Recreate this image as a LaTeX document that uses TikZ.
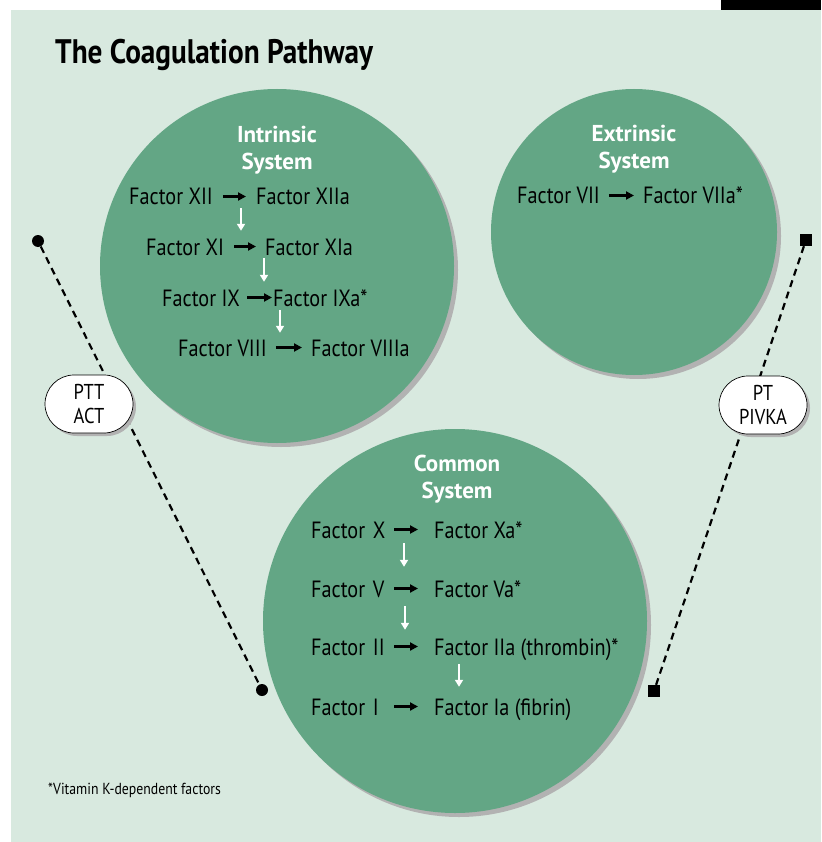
\documentclass[tikz,border=0pt]{standalone}
\usepackage{fontspec}
\setmainfont{PT Sans}[FakeStretch=0.86]
\newfontfamily\headfont{PT Sans}
\usetikzlibrary{positioning, arrows.meta, shapes.misc, shadows}
\definecolor{panelgreen}{RGB}{216,233,223}
\definecolor{circlegreen}{RGB}{99,166,133}
\definecolor{shadowgray}{RGB}{178,178,178}

\begin{document}
\begin{tikzpicture}[x=1pt, y=-1pt,
    system/.style={circle, fill=circlegreen, draw=none, inner sep=0pt,
        drop shadow={shadow xshift=4pt, shadow yshift=-4pt, opacity=1, fill=shadowgray}},
    heading/.style={align=center, text=white, inner sep=0pt, font=\headfont\fontsize{23}{27}\selectfont\bfseries},
    factor/.style={anchor=base west, inner sep=0pt, text height=17pt, text depth=0pt, font=\fontsize{23.5}{28}\selectfont},
    leftfactor/.style={factor, text width=76pt},
    arrow/.style={-{Triangle[length=8pt, width=8pt]}, line width=2.4pt, black},
    downarrow/.style={-{Triangle[length=7pt, width=8pt]}, line width=2pt, white},
    testdot/.style={circle, fill=black, inner sep=0pt, minimum size=12pt},
    testsquare/.style={rectangle, fill=black, inner sep=0pt, minimum size=12pt},
    testline/.style={dashed, dash pattern=on 7pt off 5pt, line width=2.2pt},
    testpill/.style={rounded rectangle, fill=white, draw=black, line width=0.7pt, align=center,
        minimum width=88pt, minimum height=58pt, inner sep=0pt, font=\fontsize{21.5}{24}\selectfont,
        drop shadow={shadow xshift=3pt, shadow yshift=-3pt, opacity=1, fill=shadowgray}}
]
\useasboundingbox (0,0) rectangle (821,842);

% Hintergrund
\fill[panelgreen] (11,10) rectangle (821,842);
\fill[black] (721,0) rectangle (821,10);

% Titel
\node[anchor=base west, inner sep=0pt, font=\fontsize{34}{38}\selectfont\bfseries] (title) at (55,64) {The Coagulation Pathway};

% Systeme
\node[system, minimum size=354pt] (intrinsic) at (277,266) {};
\node[system, minimum size=286pt] (extrinsic) at (634,232) {};
\node[system, minimum size=384pt] (common) at (455,621) {};

% Intrinsic System
\node[heading] (intrinsichead) at (277,150) {Intrinsic\\System};
\node[factor] (f12) at (129,205) {Factor XII};
\node[factor] (f12a) at (256,205) {Factor XIIa};
\node[factor] (f11) at (146,255) {Factor XI};
\node[factor] (f11a) at (265,255) {Factor XIa};
\node[factor] (f9) at (162,306) {Factor IX};
\node[factor] (f9a) at (273,306) {Factor IXa*};
\node[factor] (f8) at (178,356) {Factor VIII};
\node[factor] (f8a) at (311,356) {Factor VIIIa};

\draw[arrow, shorten <=10pt, shorten >=10pt] (f12.east) -- (f12a.west);
\draw[arrow, shorten <=10pt, shorten >=9pt] (f11.east) -- (f11a.west);
\draw[arrow, shorten <=7pt, shorten >=1pt] (f9.east) -- (f9a.west);
\draw[arrow, shorten <=9pt, shorten >=9pt] (f8.east) -- (f8a.west);

\draw[downarrow, shorten <=3pt, shorten >=7pt] (f12.south -| 241,0) -- (f11.north -| 241,0);
\draw[downarrow, shorten <=3pt, shorten >=7pt] (f11.south -| 264,0) -- (f9.north -| 264,0);
\draw[downarrow, shorten <=4pt, shorten >=6pt] (f9.south -| 280,0) -- (f8.north -| 280,0);

% Extrinsic System
\node[heading] (extrinsichead) at (634,149) {Extrinsic\\System};
\node[factor] (f7) at (517,204) {Factor VII};
\node[factor] (f7a) at (643,204) {Factor VIIa*};
\draw[arrow, shorten <=9pt, shorten >=9pt] (f7.east) -- (f7a.west);

% Common System
\node[heading] (commonhead) at (457,479) {Common\\System};
\node[leftfactor] (f10) at (311,538) {Factor X};
\node[factor] (f10a) at (434,538) {Factor Xa*};
\node[leftfactor] (f5) at (311,597) {Factor V};
\node[factor] (f5a) at (434,597) {Factor Va*};
\node[leftfactor] (f2) at (311,655) {Factor II};
\node[factor] (f2a) at (434,655) {Factor IIa (thrombin)*};
\node[leftfactor] (f1) at (311,715) {Factor I};
\node[factor] (f1a) at (434,715) {Factor Ia (fibrin)};

\draw[arrow, shorten <=7pt, shorten >=16pt] (f10.east) -- (f10a.west);
\draw[arrow, shorten <=7pt, shorten >=16pt] (f5.east) -- (f5a.west);
\draw[arrow, shorten <=7pt, shorten >=16pt] (f2.east) -- (f2a.west);
\draw[arrow, shorten <=7pt, shorten >=16pt] (f1.east) -- (f1a.west);

\draw[downarrow, shorten <=5pt, shorten >=13pt] (f10.south -| 404,0) -- (f5.north -| 404,0);
\draw[downarrow, shorten <=9pt, shorten >=8pt] (f5.south -| 405,0) -- (f2.north -| 405,0);
\draw[downarrow, shorten <=9pt, shorten >=11pt] (f2a.south -| 459,0) -- (f1a.north -| 459,0);

% Tests
\node[testdot] (pttstart) at (38,241) {};
\node[testdot] (pttend) at (262,690) {};
\node[testsquare] (ptstart) at (806,240) {};
\node[testsquare] (ptend) at (654,691) {};
\draw[testline] (pttstart) -- (pttend);
\draw[testline] (ptstart) -- (ptend);
\node[testpill] (ptt) at (89,404) {PTT\\ACT};
\node[testpill] (pt) at (763,405) {PT\\PIVKA};

% Fussnote
\node[anchor=base west, inner sep=0pt, font=\fontsize{16}{19}\selectfont] (vitk) at (48,794) {*Vitamin K-dependent factors};

\end{tikzpicture}
\end{document}
